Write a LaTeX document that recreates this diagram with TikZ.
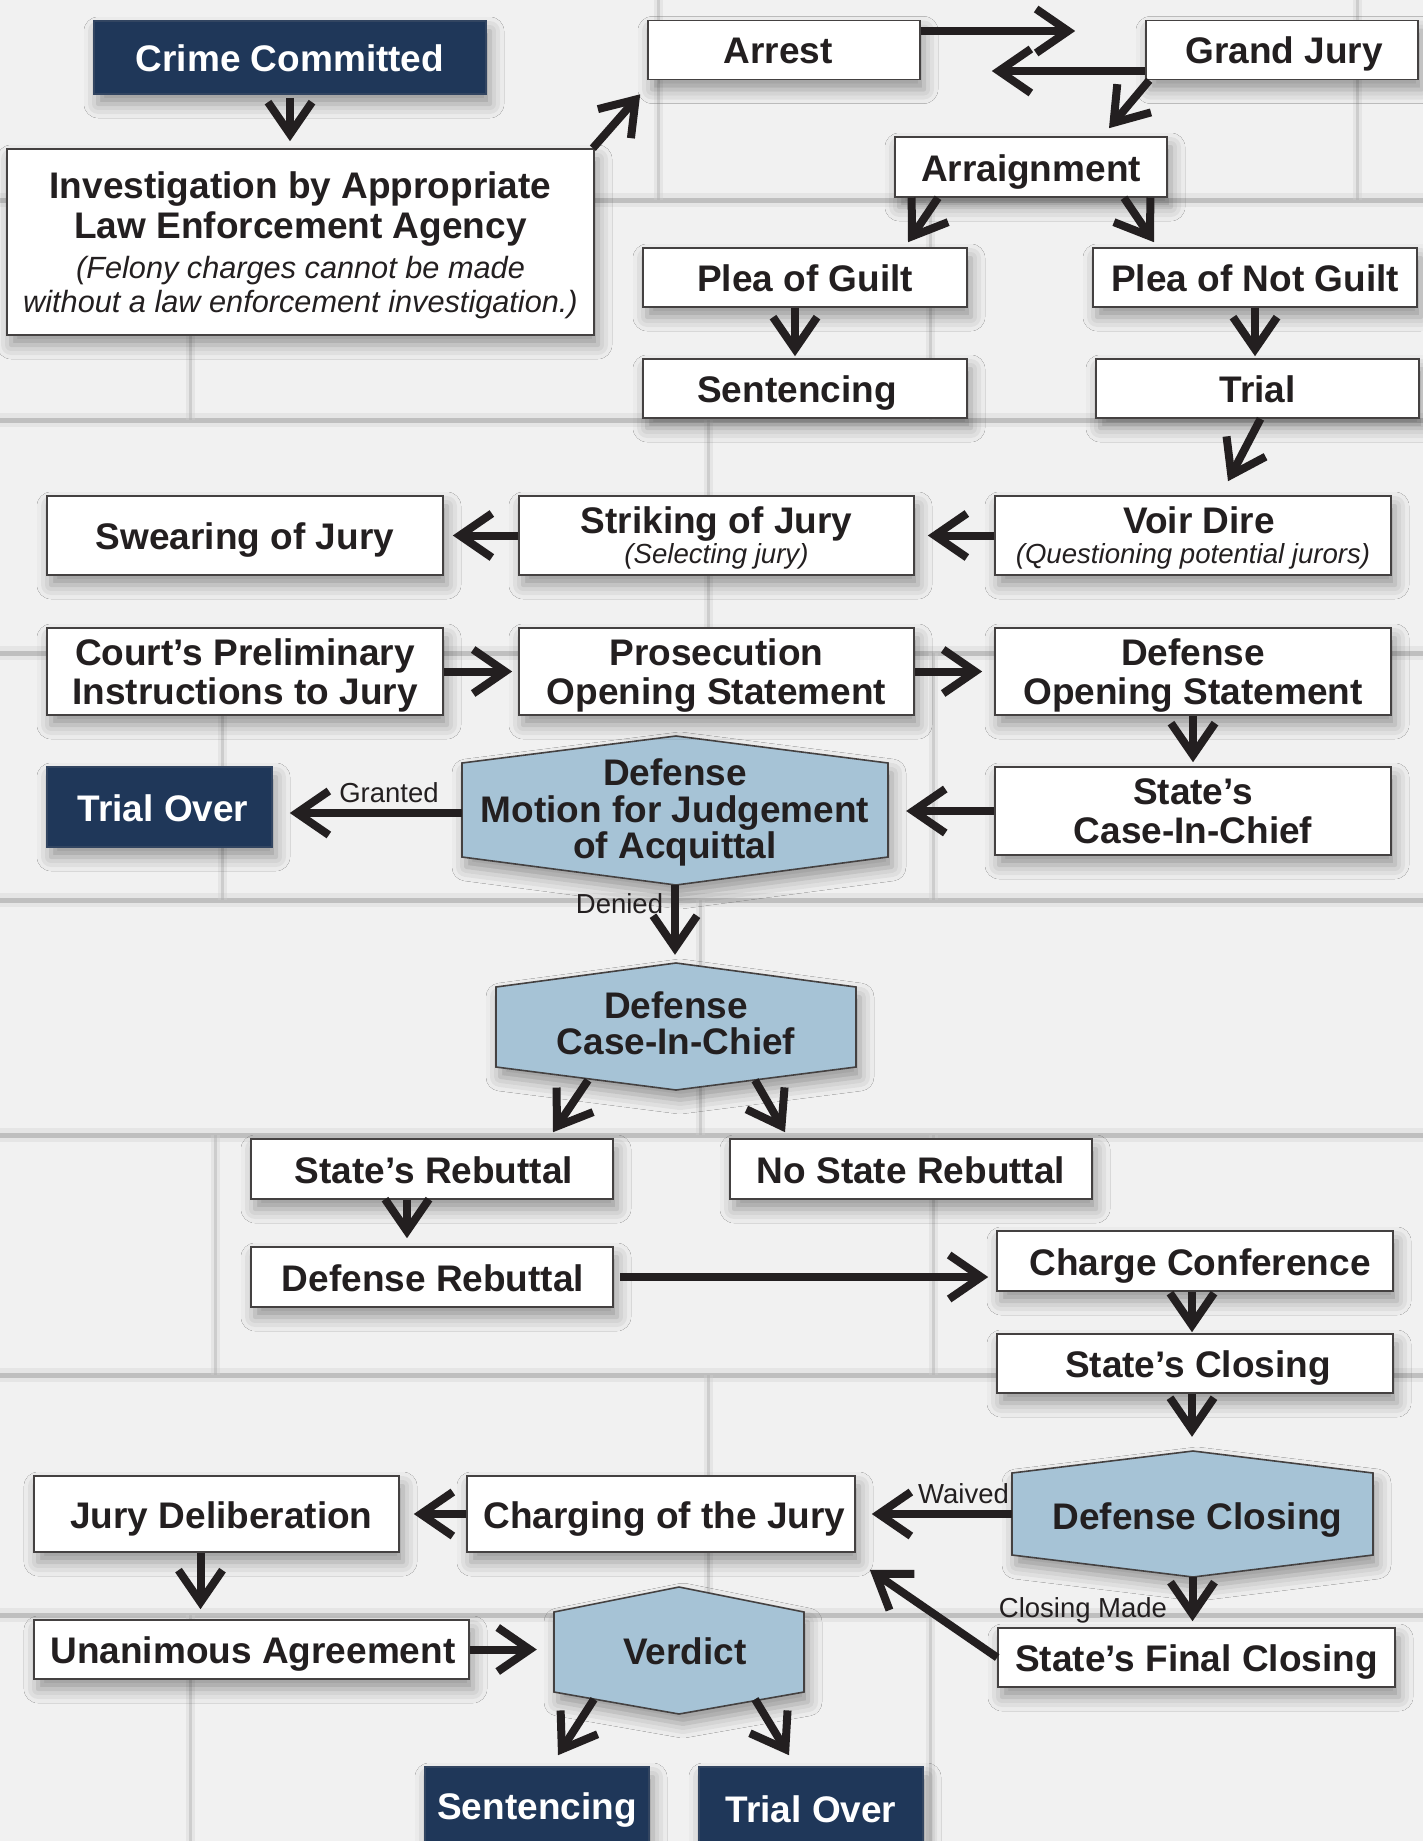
\documentclass[tikz,border=0pt]{standalone}
\usepackage{fontspec}
\setmainfont{Liberation Sans}
\usetikzlibrary{arrows.meta,shadows.blur,calc}
\definecolor{navy}{HTML}{1F3759}
\definecolor{hexblue}{HTML}{A6C3D6}
\definecolor{ink}{HTML}{231F20}
\definecolor{wall}{HTML}{F1F1F1}
\definecolor{mortar}{HTML}{B0B0B0}
\newcommand\bfbig{\fontsize{37}{39}\selectfont\bfseries}
\newcommand\lblfont{\fontsize{27.5}{29}\selectfont}
\newcommand\subit{\fontsize{27.6}{29}\selectfont\mdseries\itshape}
\newcommand\invit{\fontsize{30.7}{34}\selectfont\mdseries\itshape}
\newcommand\padL[1]{\hspace*{#1pt}}
\newcommand\hexpath[7]{\draw[hexshape] (#1,#5) -- (#3,#4) -- (#2,#5) -- (#2,#6) -- (#3,#7) -- (#1,#6) -- cycle;}
\tikzset{
 shad/.style={blur shadow={shadow xshift=4pt, shadow yshift=-10pt, shadow blur radius=14pt, shadow opacity=38}},
 sz/.style 2 args={minimum width=#1pt, minimum height=#2pt},
 box/.style={shape=rectangle, draw=ink!85, line width=1.6pt, fill=white, inner sep=0pt, text=ink, align=center, font=\bfbig, text depth=0pt, shad},
 one/.style={text height=28pt},
 navybox/.style={box, fill=navy, draw=navy!80!gray, text=white},
 hexarea/.style={shape=rectangle, inner sep=0pt, text=ink, align=center, font=\bfbig, text depth=0pt},
 hexshape/.style={draw=ink!85, line width=1.6pt, fill=hexblue, shad},
 arr/.style={draw=ink, line width=8pt, -{Straight Barb[length=32pt,width=44pt,line width=8pt]}},
 lbl/.style={font=\lblfont, text=ink, inner sep=0pt, anchor=base},
 mline/.style={draw=mortar, line width=5pt, opacity=0.7},
 mhalo/.style={draw=mortar!50, line width=14pt, opacity=0.45},
}
\begin{document}
\begin{tikzpicture}[x=1pt,y=-1pt]
\useasboundingbox (0,0) rectangle (1423,1841);
\clip (0,0) rectangle (1423,1841);
% wall
\fill[wall] (0,0) rectangle (1423,1841);
\foreach \yy in {200,420,653,900,1135,1375,1615}{
  \draw[mhalo] (0,\yy) -- (1423,\yy);
  \draw[mline] (0,\yy) -- (1423,\yy);
}
\foreach \xx/\ya/\yb in {658/0/200,1357/0/200,190/200/420,930/200/420,708/420/653,222/653/900,933/653/900,
  700/900/1135,215/1135/1375,933/1135/1375,708/1375/1615,190/1615/1841,930/1615/1841}{
  \draw[mortar!60, line width=9pt, opacity=0.35] (\xx,\ya) -- (\xx,\yb);
  \draw[mortar, line width=3pt, opacity=0.45] (\xx,\ya) -- (\xx,\yb);
}
% hexagons
\hexpath{462}{888}{676}{736}{763}{857}{885}
\hexpath{496}{856}{676}{963}{987}{1067}{1090}
\hexpath{1012}{1373}{1193}{1451}{1473}{1555}{1577}
\hexpath{554}{804}{679}{1587}{1612}{1692}{1714}
% nodes
\node[navybox, one, sz={392}{73}] (crime) at (290,57.5) {Crime Committed};
\node[box, sz={587}{186}, font=\fontsize{37}{34}\selectfont\bfseries] (invest) at (300.5,242)
  {Investigation by Appropriate\\[4pt]Law Enforcement Agency\\[6pt]{\invit (Felony charges cannot be made}\\{\invit without a law enforcement investigation.)}};
\node[box, one, sz={272}{59}] (arrest) at (784,50) {Arrest\padL{12}};
\node[box, one, sz={272}{59}] (gj) at (1282,50) {\padL{4}Grand Jury};
\node[box, one, sz={272}{60}] (arraign) at (1031,167) {Arraignment};
\node[box, one, sz={324}{59}] (guilt) at (805,277.5) {Plea of Guilt};
\node[box, one, sz={324}{59}] (notguilt) at (1255,277.5) {Plea of Not Guilt};
\node[box, one, sz={324}{59}] (sent1) at (805,388.5) {Sentencing\padL{16}};
\node[box, one, sz={323}{59}] (trial) at (1257.5,388.5) {Trial};
\node[box, one, sz={396}{79}] (swearing) at (245,535.5) {Swearing of Jury};
\node[box, sz={395}{79}, font=\fontsize{37}{30}\selectfont\bfseries] (striking) at (716.5,535.5) {Striking of Jury\\{\subit (Selecting jury)}};
\node[box, sz={396}{79}, font=\fontsize{37}{30}\selectfont\bfseries] (voir) at (1193,535.5) {\padL{12}Voir Dire\\{\subit (Questioning potential jurors)}};
\node[box, sz={396}{87}] (court) at (245,671.5) {Court’s Preliminary\\Instructions to Jury};
\node[box, sz={395}{87}] (pros) at (716.5,671.5) {Prosecution\\Opening Statement};
\node[box, sz={396}{87}] (defopen) at (1193,671.5) {Defense\\Opening Statement};
\node[box, sz={396}{88}] (statecase) at (1193,811) {State’s\\Case-In-Chief};
\node[navybox, one, sz={225}{80}] (trialover1) at (159.5,807) {\padL{7}Trial Over};
\node[hexarea, sz={426}{149}, font=\fontsize{37}{36.5}\selectfont\bfseries] (motion) at (675,809) {Defense\\Motion for Judgement\\of Acquittal};
\node[hexarea, sz={360}{127}, font=\fontsize{37}{36}\selectfont\bfseries] (defcase) at (676,1023) {Defense\\Case-In-Chief};
\node[box, one, sz={362}{60}] (statereb) at (432,1169) {\padL{4}State’s Rebuttal};
\node[box, one, sz={362}{60}] (nostate) at (911,1169) {No State Rebuttal};
\node[box, one, sz={362}{60}] (defreb) at (432,1277) {\padL{2}Defense Rebuttal};
\node[box, one, sz={396}{60}] (cc) at (1195,1261) {\padL{10}Charge Conference};
\node[box, one, sz={396}{59}] (sc) at (1195,1363.5) {\padL{6}State’s Closing};
\node[hexarea, one, sz={361}{126}] (dc) at (1192.5,1515) {\padL{10}Defense Closing};
\node[box, one, sz={388}{76}] (charging) at (661,1514) {\padL{7}Charging of the Jury};
\node[box, one, sz={365}{76}] (jd) at (216.5,1514) {\padL{10}Jury Deliberation};
\node[box, one, sz={435}{59}] (unan) at (251.5,1649.5) {\padL{3}Unanimous Agreement};
\node[hexarea, one, sz={250}{127}] (verdict) at (679,1650.5) {\padL{12}Verdict};
\node[box, one, sz={397}{59}] (sfc) at (1196.5,1657.5) {State’s Final Closing};
\node[navybox, one, sz={224}{76}] (sent2) at (537,1805) {Sentencing};
\node[navybox, one, sz={224}{82}] (trialover2) at (811,1808) {Trial Over};
% connectors
\draw[arr, shorten >=7pt, shorten <=3pt] (crime.south) -- (crime.south |- invest.north);
\draw[arr] ([xshift=-2pt]invest.north east) -- ([shift={(-7,14)}]arrest.south west);
\draw[arr, shorten >=70pt] ([yshift=19pt]arrest.east) -- ([yshift=19pt]arrest.east -| gj.west);
\draw[arr, shorten >=71pt] ([yshift=-21pt]gj.west) -- ([yshift=-21pt]gj.west -| arrest.east);
\draw[arr] ([xshift=4pt]gj.south west) -- ([shift={(78,-8)}]arraign.north);
\draw[arr] ([xshift=-93pt]arraign.south) -- ([shift={(103,-5)}]guilt.north);
\draw[arr] ([xshift=93pt]arraign.south) -- ([shift={(-101,-5)}]notguilt.north);
\draw[arr, shorten >=2pt] ([xshift=-10pt]guilt.south) -- ([xshift=-10pt]sent1.north);
\draw[arr, shorten >=2pt] (notguilt.south) -- (notguilt.south |- trial.north);
\draw[arr] ([xshift=3pt]trial.south) -- ([shift={(35,-14)}]voir.north);
\draw[arr, shorten >=13pt] (voir.west) -- (striking.east);
\draw[arr, shorten >=9pt] (striking.west) -- (swearing.east);
\draw[arr, shorten >=6pt] (court.east) -- (pros.west);
\draw[arr, shorten >=12pt] (pros.east) -- (defopen.west);
\draw[arr, shorten >=4pt] (defopen.south) -- (statecase.north);
\draw[arr, shorten >=18pt] (statecase.west) -- (statecase.west -| motion.east);
\draw[arr, shorten >=17pt] ([yshift=-4pt]motion.west) -- ([yshift=-4pt]motion.west -| trialover1.east);
\draw[arr, shorten >=4.5pt, shorten <=1.5pt] (motion.south) -- (motion.south |- defcase.north);
\draw[arr] ([shift={(-88,-6.5)}]defcase.south) -- ([shift={(121,-6)}]statereb.north);
\draw[arr] ([shift={(79,-6.5)}]defcase.south) -- ([shift={(-126,-6)}]nostate.north);
\draw[arr, shorten >=8pt] ([xshift=-25pt]statereb.south) -- ([xshift=-25pt]defreb.north);
\draw[arr, shorten <=6pt, shorten >=8pt] (defreb.east) -- (defreb.east -| cc.west);
\draw[arr, shorten >=1pt] ([xshift=-3pt]cc.south) -- ([xshift=-3pt]sc.north);
\draw[arr, shorten >=15pt] ([xshift=-3pt]sc.south) -- ([xshift=-3pt]sc.south |- dc.north);
\draw[arr, shorten >=16pt] ([yshift=1pt]dc.west) -- ([yshift=1pt]dc.west -| charging.east);
\draw[arr, shorten >=14pt] (charging.west) -- (jd.east);
\draw[arr, shorten >=10pt] ([xshift=-16pt]jd.south) -- ([xshift=-16pt]jd.south |- unan.north);
\draw[arr, shorten >=17pt] (unan.east) -- (unan.east -| verdict.west);
\draw[arr, shorten >=6pt, shorten <=-1pt] (dc.south) -- (dc.south |- sfc.north);
\draw[arr] (sfc.west) -- ([shift={(14,17)}]charging.south east);
\draw[arr] ([shift={(-85,-15)}]verdict.south) -- ([shift={(21,-11)}]sent2.north);
\draw[arr] ([shift={(76,-15)}]verdict.south) -- ([shift={(-22,-11)}]trialover2.north);
% labels
\node[lbl] (lgranted) at (389,802) {Granted};
\node[lbl] (ldenied) at (619.5,913) {Denied};
\node[lbl] (lwaived) at (963.5,1503) {Waived};
\node[lbl] (lclosing) at (1083,1617) {Closing Made};
\end{tikzpicture}
\end{document}
